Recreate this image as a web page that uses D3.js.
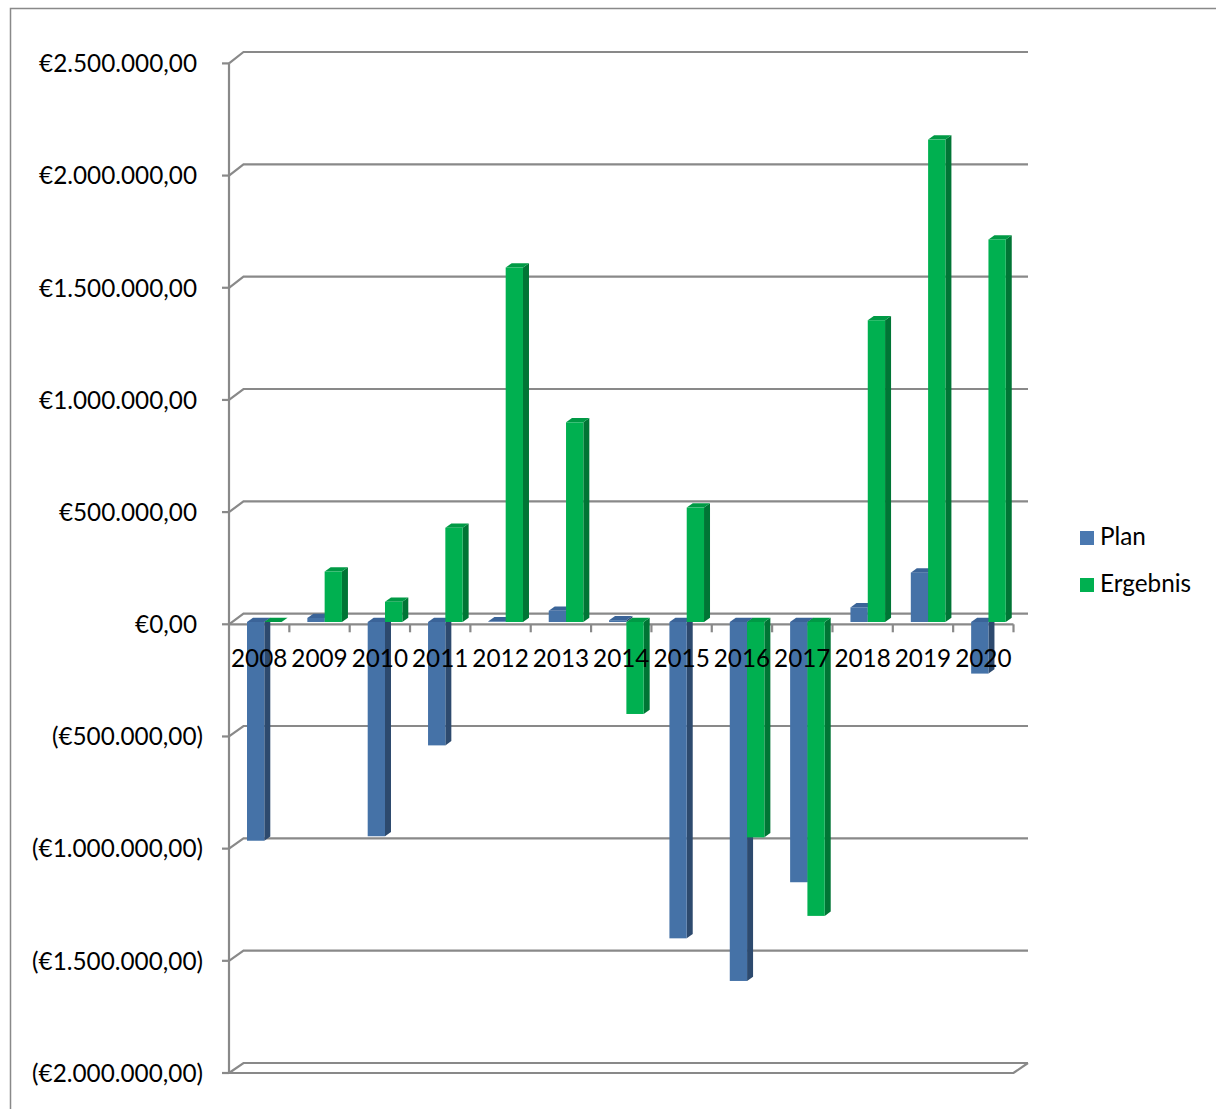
<!DOCTYPE html>
<html>
<head>
<meta charset="utf-8">
<script src="https://cdn.jsdelivr.net/npm/d3@7"></script>
<style>
  html, body { margin: 0; padding: 0; background: #fff; }
  svg { display: block; }
  text { font-family: Lato, "Open Sans", sans-serif; fill: #000; }
</style>
</head>
<body>
<svg id="chart" width="1216" height="1109"></svg>
<script>
// Jahreswerte: Plan und Ergebnis (in Euro)
const years = ["2008", "2009", "2010", "2011", "2012", "2013", "2014", "2015", "2016", "2017", "2018", "2019", "2020"];
const plan = [-975000, 18000, -955000, -550000, 3000, 50000, 8000, -1410000, -1600000, -1160000, 65000, 220000, -230000];
const ergebnis = [0, 225000, 90000, 420000, 1580000, 890000, -410000, 510000, -960000, -1310000, 1345000, 2150000, 1705000];
const tickValues = [2500000, 2000000, 1500000, 1000000, 500000, 0, -500000, -1000000, -1500000, -2000000];
const seriesNames = ["Plan", "Ergebnis"];

const svg = d3.select("#chart");
const grid = "#898989";
const fontSize = "24.3px";

// Front plane and back wall of the oblique 3D box
const xFront = d3.scaleBand().domain(years).range([229, 1013.5]).paddingInner(0).paddingOuter(0);
const yFront = d3.scaleLinear().domain([-2000000, 2500000]).range([1073, 63.4]);
const yBack = d3.scaleLinear().domain([-2000000, 2500000]).range([1063, 52]);
const wallDx = 14.5;
const xBackL = 229 + wallDx, xBackR = 1013.5 + wallDx;

// Euro format with German separators; negatives in parentheses
const fmtNum = d3.formatLocale({ decimal: ",", thousands: ".", grouping: [3], currency: ["€", ""] }).format(",.2f");
const fmtEuro = v => v < 0 ? "(€" + fmtNum(-v) + ")" : "€" + fmtNum(v);

// Outer chart border
svg.append("rect").attr("x", 10.5).attr("y", 8.5).attr("width", 1300).attr("height", 1300)
  .attr("fill", "none").attr("stroke", grid).attr("stroke-width", 1.5);

const gGrid = svg.append("g").attr("stroke", grid).attr("stroke-width", 2.2).attr("fill", "none");

// Back wall gridlines and their side-wall diagonals
tickValues.forEach(t => {
  gGrid.append("path").attr("d",
    `M${xFront.range()[0]},${yFront(t)}L${xBackL},${yBack(t)}H${xBackR}`);
  gGrid.append("line").attr("x1", 222).attr("x2", 229).attr("y1", yFront(t)).attr("y2", yFront(t));
});

// Floor edge at the bottom
gGrid.append("path").attr("d",
  `M229,${yFront(-2000000)}H1013.5L${xBackR},${yBack(-2000000)}`);

// Vertical value axis
gGrid.append("line").attr("x1", 229).attr("x2", 229)
  .attr("y1", yFront(2500000)).attr("y2", yFront(-2000000));

// Category axis at zero with tick marks between years
const y0 = yFront(0);
gGrid.append("line").attr("x1", 229).attr("x2", 1013.5).attr("y1", y0).attr("y2", y0);
const boundaries = years.map(y => xFront(y)).concat([xFront.range()[1]]);
boundaries.slice(1).forEach(x => {
  gGrid.append("line").attr("x1", x).attr("x2", x).attr("y1", y0).attr("y2", y0 + 8);
});

// Value axis labels
svg.append("g").selectAll("text").data(tickValues).join("text")
  .attr("x", d => d < 0 ? 203 : 197)
  .attr("y", d => yFront(d))
  .attr("dy", "0.36em")
  .attr("text-anchor", "end")
  .style("font-size", fontSize)
  .text(fmtEuro);

// 3D columns
const barY = v => yFront(v) - 2.3;
const barW = 17.3, depthX = 6, depthY = -4.3;
const colors = [
  { front: "#4572a7", side: "#2d4a6e", top: "#3b6498" },
  { front: "#00b050", side: "#007535", top: "#009a45" }
];
const gBars = svg.append("g");
years.forEach((yr, i) => {
  [plan[i], ergebnis[i]].forEach((v, s) => {
    const c = colors[s];
    const x0 = xFront(yr) + 18 + s * barW;
    const x1 = x0 + barW;
    const yTop = Math.min(barY(v), barY(0));
    const yBot = Math.max(barY(v), barY(0));
    // side face
    gBars.append("path").attr("fill", c.side)
      .attr("d", `M${x1},${yTop}L${x1 + depthX},${yTop + depthY}V${yBot + depthY}L${x1},${yBot}Z`);
    // top face
    gBars.append("path").attr("fill", c.top)
      .attr("d", `M${x0},${yTop}L${x0 + depthX},${yTop + depthY}H${x1 + depthX}L${x1},${yTop}Z`);
    // front face
    gBars.append("rect").attr("fill", c.front)
      .attr("x", x0).attr("y", yTop).attr("width", barW).attr("height", Math.max(0, yBot - yTop));
  });
});

// Year labels
svg.append("g").selectAll("text").data(years).join("text")
  .attr("x", d => xFront(d) + xFront.bandwidth() / 2)
  .attr("y", 667)
  .attr("text-anchor", "middle")
  .style("font-size", fontSize)
  .text(d => d);

// Legend
const legend = svg.append("g");
seriesNames.forEach((name, s) => {
  const ly = 531 + s * 47;
  legend.append("rect").attr("x", 1080).attr("y", ly).attr("width", 14).attr("height", 14)
    .attr("fill", s === 0 ? "#4a78b0" : "#00b050");
  legend.append("text").attr("x", 1100).attr("y", ly + 14)
    .style("font-size", fontSize).text(name);
});
</script>
</body>
</html>
